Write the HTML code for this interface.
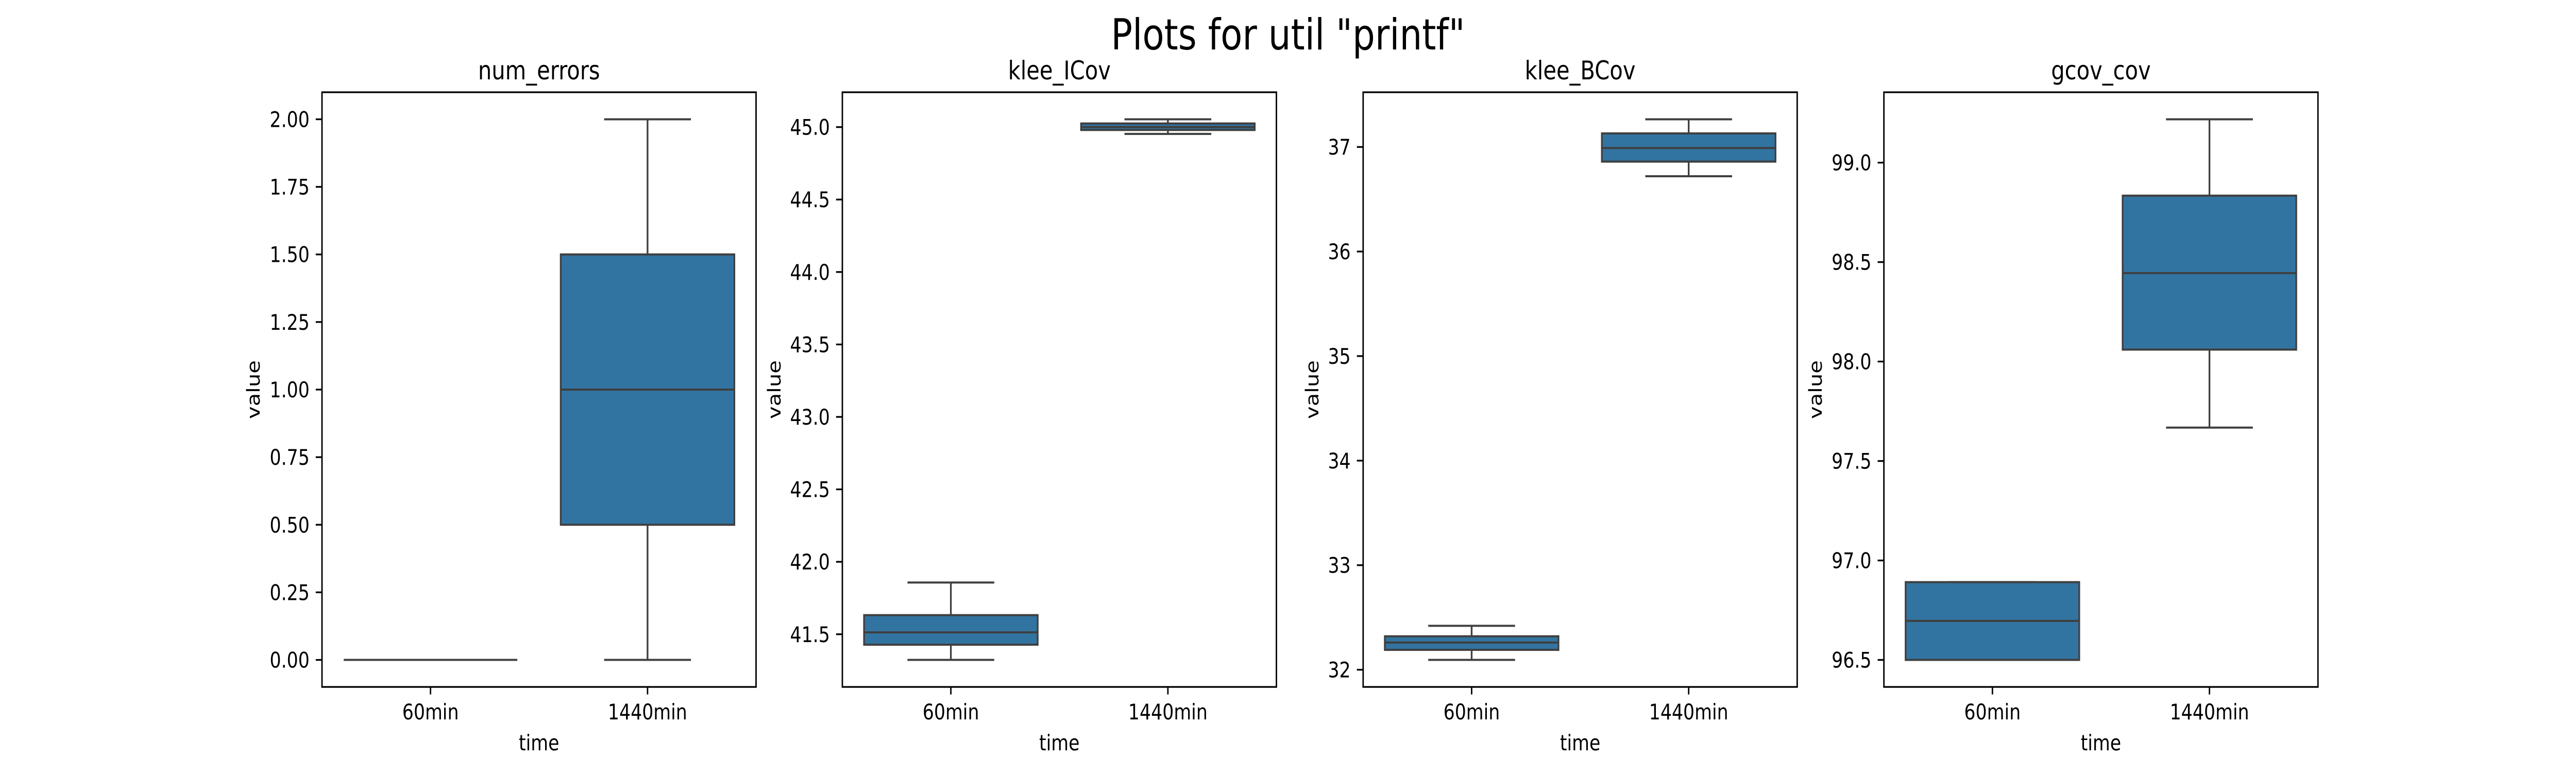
<!DOCTYPE html>
<html><head><meta charset="utf-8"><style>
html,body{margin:0;padding:0;background:#fff;width:100%;height:100%;overflow:hidden}
svg{display:block;width:100vw;height:100vh}
text{font-family:"DejaVu Sans","Liberation Sans",sans-serif;fill:#000}
</style></head><body>
<svg id="chart" xmlns="http://www.w3.org/2000/svg" viewBox="0 0 6000 1500" preserveAspectRatio="none">
<rect width="6000" height="1500" fill="#fff"/>
<text x="3000" y="96" font-size="83" text-anchor="middle">Plots for util "printf"</text>
</svg>
<script>
const categories = ["60min", "1440min"];
const panelTitles = ["num_errors", "klee_ICov", "klee_BCov", "gcov_cov"];
// per panel, per category: [whisker_low, q1, median, q3, whisker_high]
const numErrorsStats = [[0, 0, 0, 0, 0], [0, 0.5, 1.0, 1.5, 2.0]];
const kleeICovStats = [[41.323, 41.428, 41.513, 41.632, 41.857], [44.953, 44.98, 45.0, 45.025, 45.054]];
const kleeBCovStats = [[32.094, 32.19, 32.26, 32.32, 32.42], [36.72, 36.86, 36.99, 37.13, 37.265]];
const gcovCovStats = [[96.5, 96.5, 96.696, 96.891, 96.891], [97.668, 98.06, 98.445, 98.834, 99.218]];
const numErrorsTicks = ["0.00","0.25","0.50","0.75","1.00","1.25","1.50","1.75","2.00"];
const kleeICovTicks = ["41.5","42.0","42.5","43.0","43.5","44.0","44.5","45.0"];
const kleeBCovTicks = ["32","33","34","35","36","37"];
const gcovCovTicks = ["96.5","97.0","97.5","98.0","98.5","99.0"];

const allStats = [numErrorsStats, kleeICovStats, kleeBCovStats, gcovCovStats];
const allTicks = [numErrorsTicks, kleeICovTicks, kleeBCovTicks, gcovCovTicks];
const lefts = [750, 1962, 3175, 4388];
const ylabelOffsets = [145, 144, 104, 145];
const W = 1011, TOP = 179, BOT = 1333;
const NS = "http://www.w3.org/2000/svg";
const svg = document.getElementById("chart");

function mk(tag, attrs, parent) {
  const e = document.createElementNS(NS, tag);
  for (const k in attrs) e.setAttribute(k, attrs[k]);
  (parent || svg).appendChild(e);
  return e;
}

allStats.forEach((stats, p) => {
  const L = lefts[p];
  const g = mk("g", {});
  
  
  let mn = Infinity, mx = -Infinity;
  stats.forEach(s => s.forEach(v => { mn = Math.min(mn, v); mx = Math.max(mx, v); }));
  let rng = mx - mn; if (rng === 0) rng = 1;
  const y0 = mn - rng * 0.05, y1 = mx + rng * 0.05;
  const ys = v => BOT - (v - y0) / (y1 - y0) * (BOT - TOP);
  const xs = v => L + (v + 0.5) / 2 * W;

  stats.forEach((s, i) => {
    const cx = xs(i), bw = 0.8 * W / 2, cw = 0.4 * W / 2;
    const bg = mk("g", {}, g);
    
    
    const st = {stroke: "#3f3f3f", "stroke-width": 4, fill: "none"};
    mk("line", Object.assign({x1: cx, x2: cx, y1: ys(s[0]), y2: ys(s[1])}, st), bg);
    mk("line", Object.assign({x1: cx, x2: cx, y1: ys(s[3]), y2: ys(s[4])}, st), bg);
    mk("line", Object.assign({x1: cx - cw/2, x2: cx + cw/2, y1: ys(s[0]), y2: ys(s[0])}, st), bg);
    mk("line", Object.assign({x1: cx - cw/2, x2: cx + cw/2, y1: ys(s[4]), y2: ys(s[4])}, st), bg);
    mk("rect", {x: cx - bw/2, y: ys(s[3]), width: bw, height: Math.max(0, ys(s[1]) - ys(s[3])), fill: "#3274a1", stroke: "#3f3f3f", "stroke-width": 4}, bg);
    mk("line", Object.assign({x1: cx - bw/2, x2: cx + bw/2, y1: ys(s[2]), y2: ys(s[2])}, st), bg);
  });

  allTicks[p].forEach(t => {
    const y = ys(parseFloat(t));
    mk("line", {x1: L - 14.6, x2: L, y1: y, y2: y, stroke: "#000", "stroke-width": 3.33}, g);
    const tx = mk("text", {x: L - 29, y: y + 15, "font-size": 41.7, "text-anchor": "end"}, g);
    
    
    tx.textContent = t;
  });
  categories.forEach((c, i) => {
    const x = xs(i);
    mk("line", {x1: x, x2: x, y1: BOT, y2: BOT + 14.6, stroke: "#000", "stroke-width": 3.33}, g);
    const tx = mk("text", {x: x, y: 1396, "font-size": 41.7, "text-anchor": "middle"}, g);
    
    
    tx.textContent = c;
  });
  const fr = mk("rect", {x: L, y: TOP, width: W, height: BOT - TOP, fill: "none", stroke: "#000", "stroke-width": 3.33}, g);
  
  
  const tt = mk("text", {x: L + W/2, y: 154, "font-size": 50, "text-anchor": "middle"}, g);
  
  
  tt.textContent = panelTitles[p];
  const xl = mk("text", {x: L + W/2, y: 1456, "font-size": 41.7, "text-anchor": "middle"}, g);
  
  
  xl.textContent = "time";
  const yx = L - ylabelOffsets[p], yy = (TOP + BOT) / 2;
  const yl = mk("text", {x: yx, y: yy, "font-size": 41.7, "text-anchor": "middle", transform: `rotate(-90 ${yx} ${yy})`}, g);
  
  
  yl.textContent = "value";
});
</script>
</body></html>
